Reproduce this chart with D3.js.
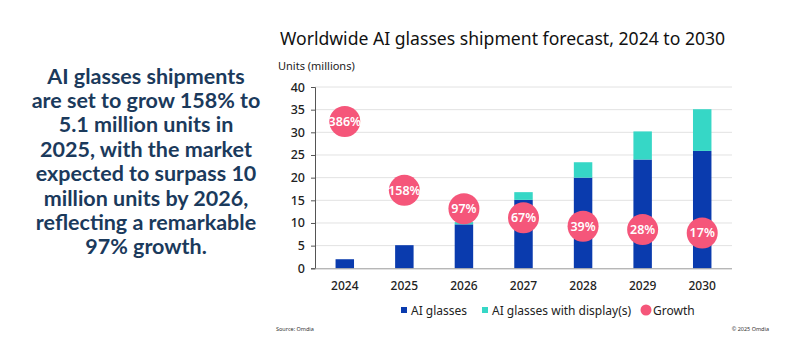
<!DOCTYPE html>
<html><head><meta charset="utf-8">
<script src="https://cdn.jsdelivr.net/npm/d3@7"></script>
<style>
html,body{margin:0;padding:0;background:#fff;}
svg{display:block;font-family:"Noto Sans",sans-serif;}
</style></head>
<body>
<svg id="c" width="791" height="359"></svg>
<script>
const years = ["2024","2025","2026","2027","2028","2029","2030"];
const aiGlasses = [2.0, 5.1, 9.7, 15.1, 20.0, 24.0, 25.9];
const withDisplay = [0, 0, 0.5, 1.7, 3.4, 6.2, 9.2];
const growth = [386, 158, 97, 67, 39, 28, 17];
const yTicks = [0,5,10,15,20,25,30,35,40];
const seriesNames = ["AI glasses", "AI glasses with display(s)", "Growth"];
const colors = ["#0a3bae", "#36d7c6", "#f5567a"];
const sideLines = ["AI glasses shipments","are set to grow 158% to","5.1 million units in","2025, with the market","expected to surpass 10","million units by 2026,","reflecting a remarkable","97% growth."];

const svg = d3.select("#c");
const pL = 315, pR = 732, pT = 87, pB = 268.3;

const x = d3.scaleBand().domain(years).range([pL, pR]).paddingInner(0.69).paddingOuter(0.345);
const y = d3.scaleLinear().domain([0, 40]).range([pB, pT]);
const yG = d3.scaleLinear().domain([-100, 500]).range([pB, pT]);

// side text
svg.append("g").selectAll("text").data(sideLines).join("text")
  .attr("x", 146).attr("y", (d,i) => 83.5 + i*24.4)
  .attr("text-anchor","middle").attr("fill","#1b3a5c")
  .attr("font-family","Lato, sans-serif")
  .attr("font-size", 21.5).attr("font-weight", 700)
  .text(d => d);

// title
svg.append("text").attr("x", 280).attr("y", 45).attr("fill","#111")
  .attr("font-size", 17.6).text("Worldwide AI glasses shipment forecast, 2024 to 2030");
svg.append("text").attr("x", 278).attr("y", 70).attr("fill","#222")
  .attr("font-size", 11).text("Units (millions)");

// gridlines
svg.append("g").selectAll("line").data(yTicks.slice(1)).join("line")
  .attr("x1", pL).attr("x2", pR)
  .attr("y1", d => y(d)).attr("y2", d => y(d))
  .attr("stroke", "#e2e2e2").attr("stroke-width", 1);

// bars
const stack = years.map((yr,i) => ({yr, a: aiGlasses[i], d: withDisplay[i]}));
svg.append("g").selectAll("rect").data(stack).join("rect")
  .attr("x", d => x(d.yr)).attr("width", x.bandwidth())
  .attr("y", d => y(d.a)).attr("height", d => y(0) - y(d.a))
  .attr("fill", colors[0]);
svg.append("g").selectAll("rect").data(stack.filter(d => d.d > 0)).join("rect")
  .attr("x", d => x(d.yr)).attr("width", x.bandwidth())
  .attr("y", d => y(d.a + d.d)).attr("height", d => y(d.a) - y(d.a + d.d))
  .attr("fill", colors[1]);

// axes
const yAxis = svg.append("g").attr("transform", `translate(${pL},0)`)
  .call(d3.axisLeft(y).tickValues(yTicks).tickSize(4).tickPadding(6));
yAxis.select(".domain").attr("stroke", "#555");
yAxis.selectAll(".tick line").attr("stroke", "#555");
yAxis.selectAll("text").attr("font-size", 12.5).attr("fill", "#222").attr("font-weight", 500).attr("font-family","\"Noto Sans\",sans-serif");

const xAxis = svg.append("g").attr("transform", `translate(0,${pB})`)
  .call(d3.axisBottom(x).tickSize(0).tickPadding(13));
xAxis.select(".domain").attr("stroke", "#999").attr("d", `M${pL},0.5H${pR}`);
xAxis.selectAll("text").attr("font-size", 12).attr("fill", "#222").attr("font-weight", 500).attr("font-family","\"Noto Sans\",sans-serif");

// growth bubbles
const gb = svg.append("g").selectAll("g").data(years.map((yr,i) => ({yr, g: growth[i]}))).join("g")
  .attr("transform", d => `translate(${x(d.yr) + x.bandwidth()/2},${yG(d.g)})`);
gb.append("circle").attr("r", 15.5).attr("fill", colors[2]);
gb.append("text").attr("text-anchor","middle").attr("dy","0.35em")
  .attr("fill","#fff").attr("font-size", 12.5).attr("font-weight", 600)
  .text(d => d.g + "%");

// legend
const lg = svg.append("g").attr("font-size", 12).attr("fill", "#222");
lg.append("rect").attr("x", 401).attr("y", 307).attr("width", 6).attr("height", 6).attr("fill", colors[0]);
lg.append("text").attr("x", 411).attr("y", 314.5).text(seriesNames[0]);
lg.append("rect").attr("x", 482).attr("y", 307).attr("width", 6).attr("height", 6).attr("fill", colors[1]);
lg.append("text").attr("x", 492).attr("y", 314.5).text(seriesNames[1]);
lg.append("circle").attr("cx", 646).attr("cy", 310).attr("r", 5.5).attr("fill", colors[2]);
lg.append("text").attr("x", 653).attr("y", 314.5).text(seriesNames[2]);

svg.append("text").attr("x", 276).attr("y", 331).attr("font-size", 5.5).attr("fill","#333").text("Source: Omdia");
svg.append("text").attr("x", 769).attr("y", 331).attr("text-anchor","end").attr("font-size", 5.5).attr("fill","#333").text("© 2025 Omdia");
</script>
</body></html>
